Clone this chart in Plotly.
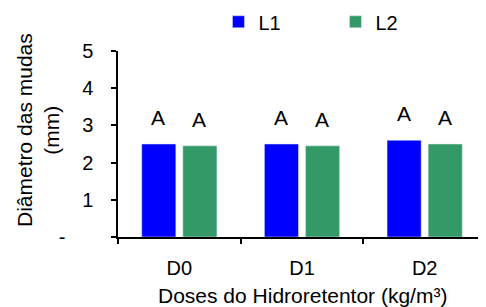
import plotly.graph_objects as go

categories = ["D0", "D1", "D2"]
l1_values = [2.5, 2.5, 2.6]
l2_values = [2.45, 2.45, 2.5]
l1_letters = ["A", "A", "A"]
l2_letters = ["A", "A", "A"]
y_tickvals = [0, 1, 2, 3, 4, 5]
y_ticktext = ["-\u00a0\u00a0\u00a0\u00a0\u00a0", "1", "2", "3", "4", "5"]

FONT = "Liberation Sans, Arial, sans-serif"
BLUE = "#0000FF"
GREEN = "#339966"

fig = go.Figure()
fig.add_trace(go.Bar(name="L1", x=categories, y=l1_values, marker_color=BLUE))
fig.add_trace(go.Bar(name="L2", x=categories, y=l2_values, marker_color=GREEN))

annotations = []
for cat, v, t in zip(categories, l1_values, l1_letters):
    annotations.append(dict(x=cat, y=v, xref="x", yref="y", text=t, showarrow=False,
                            xshift=-21, yshift=13, yanchor="bottom",
                            font=dict(family=FONT, size=21, color="black")))
for cat, v, t in zip(categories, l2_values, l2_letters):
    annotations.append(dict(x=cat, y=v, xref="x", yref="y", text=t, showarrow=False,
                            xshift=20, yshift=13, yanchor="bottom",
                            font=dict(family=FONT, size=21, color="black")))

annotations.append(dict(x=0.5, y=0, xref="paper", yref="paper", text="Doses do Hidroretentor (kg/m³)",
                        showarrow=False, yanchor="middle", yshift=-58,
                        font=dict(family=FONT, size=21, color="black")))
annotations.append(dict(x=0, y=0.5, xref="paper", yref="paper", text="Diâmetro das mudas<br>(mm)",
                        showarrow=False, textangle=-90, xanchor="center", yshift=14, xshift=-80,
                        font=dict(family=FONT, size=21, color="black")))

# page body has an 8px margin, so the figure is sized/margined to compensate
fig.update_layout(
    width=478, height=299,
    margin=dict(l=110, r=0, t=43, b=70, autoexpand=False),
    paper_bgcolor="white", plot_bgcolor="white",
    barmode="group", bargap=0.33, bargroupgap=0.17,
    font=dict(family=FONT, size=20, color="black"),
    showlegend=True,
    legend=dict(orientation="h", x=0.273, xanchor="left", y=1.262, yanchor="top",
                entrywidth=72, entrywidthmode="pixels", font=dict(size=20),
                itemclick=False, bgcolor="rgba(0,0,0,0)"),
    annotations=annotations,
)
fig.update_xaxes(showline=True, linecolor="black", linewidth=1.5, ticks="outside",
                 tickson="boundaries", ticklen=5, tickcolor="black", tickwidth=1.5,
                 ticklabelstandoff=12, showgrid=False, zeroline=False,
                 tickfont=dict(family=FONT, size=20))
fig.update_yaxes(range=[0, 5], tickvals=y_tickvals, ticktext=y_ticktext,
                 showline=True, linecolor="black", linewidth=1.5, ticks="outside",
                 ticklen=5, tickcolor="black", tickwidth=1.5, ticklabelstandoff=14,
                 showgrid=False, zeroline=False, tickfont=dict(family=FONT, size=20))

fig.write_html("out.html")
